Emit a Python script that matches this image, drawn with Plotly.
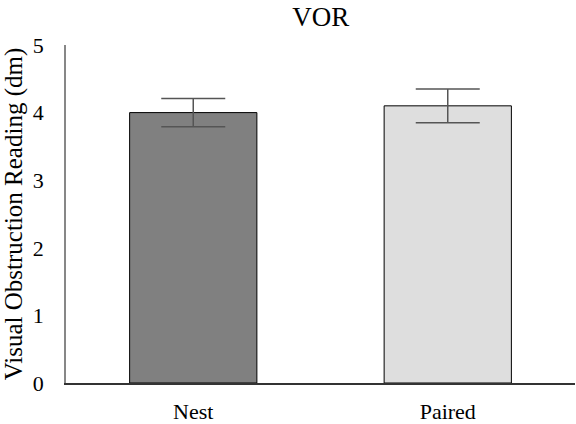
import plotly.graph_objects as go

categories = ["Nest", "Paired"]
means = [4.0, 4.1]
errors = [0.21, 0.25]
bar_colors = ["#808080", "#dedede"]
y_ticks = [0, 1, 2, 3, 4, 5]

fig = go.Figure(
    go.Bar(
        x=categories,
        y=means,
        width=0.5,
        marker=dict(color=bar_colors, line=dict(color="#000000", width=1)),
        error_y=dict(type="data", array=errors, visible=True,
                     color="#555555", thickness=1.5, width=32),
    )
)

serif = "Liberation Serif, Times New Roman, serif"

fig.update_layout(
    width=576,
    height=424,
    margin=dict(l=66, r=1, t=45, b=41),
    paper_bgcolor="white",
    plot_bgcolor="white",
    font=dict(family=serif, size=22, color="#000000"),
    showlegend=False,
    title=dict(text="VOR", x=0.557, xanchor="center", y=1 - 17 / 424,
               yanchor="middle", yref="container",
               font=dict(family=serif, size=27, color="#000000")),
    bargap=0.5,
)

fig.update_xaxes(
    type="category",
    range=[-0.5, 1.5],
    automargin=False,
    showline=True,
    linecolor="#333333",
    linewidth=1.5,
    ticks="",
    showgrid=False,
    ticklabelstandoff=8,
    tickfont=dict(family=serif, size=22),
)

fig.update_yaxes(
    range=[0, 5],
    tickvals=y_ticks,
    automargin=False,
    showline=True,
    linecolor="#878787",
    linewidth=1.5,
    ticks="",
    showgrid=False,
    zeroline=False,
    ticklabelstandoff=16,
    tickfont=dict(family=serif, size=22),
    title=dict(text="Visual Obstruction Reading (dm)", standoff=6,
               font=dict(family=serif, size=25)),
)

fig.write_html("out.html")
